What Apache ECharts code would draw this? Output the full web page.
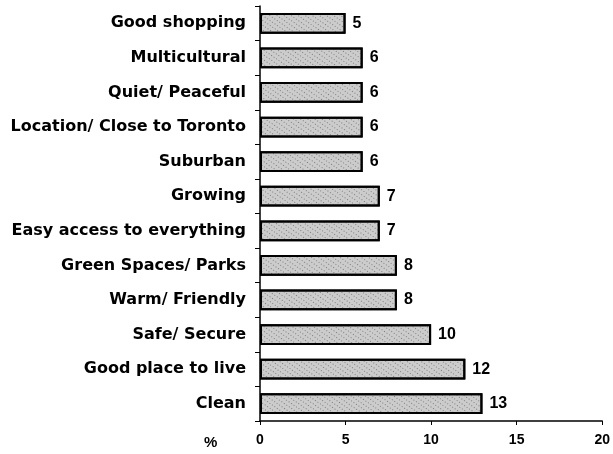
<!DOCTYPE html>
<html>
<head>
<meta charset="utf-8">
<script src="https://cdn.jsdelivr.net/npm/echarts@6/dist/echarts.min.js"></script>
<style>
  html, body { margin: 0; padding: 0; background: #fff; }
  #chart { width: 613px; height: 454px; }
</style>
</head>
<body>
<div id="chart"></div>
<script>
// bottom to top, as echarts draws category axis
var categories = ['Clean', 'Good place to live', 'Safe/ Secure', 'Warm/ Friendly',
  'Green Spaces/ Parks', 'Easy access to everything', 'Growing', 'Suburban',
  'Location/ Close to Toronto', 'Quiet/ Peaceful', 'Multicultural', 'Good shopping'];
var values = [13, 12, 10, 8, 8, 7, 7, 6, 6, 6, 6, 5];
var xTicks = [0, 5, 10, 15, 20];

var chart = echarts.init(document.getElementById('chart'));
chart.setOption({
  animation: false,
  textStyle: { fontFamily: 'Liberation Sans, Arial, sans-serif' },
  grid: { left: 260, right: 10, top: 6, bottom: 33 },
  xAxis: {
    type: 'value',
    min: xTicks[0],
    max: xTicks[xTicks.length - 1],
    interval: 5,
    splitLine: { show: false },
    axisLine: { show: true, lineStyle: { color: '#000', width: 1.5 } },
    axisTick: { show: true, length: 4, lineStyle: { color: '#000' } },
    axisLabel: { color: '#000', fontWeight: 'bold', fontSize: 14, margin: 12 }
  },
  yAxis: {
    type: 'category',
    data: categories,
    axisLine: { show: true, lineStyle: { color: '#000', width: 1.5 } },
    axisTick: { show: true, length: 5, lineStyle: { color: '#000' } },
    axisLabel: {
      color: '#000', fontWeight: 'bold', fontSize: 16, margin: 14,
      fontFamily: 'DejaVu Sans'
    }
  },
  graphic: [{
    type: 'text', left: 204, top: 435,
    style: { text: '%', fill: '#000', font: 'bold 15px Liberation Sans, Arial, sans-serif' }
  }],
  series: [{
    type: 'bar',
    data: values,
    barCategoryGap: '40%',
    itemStyle: {
      color: '#cccccc',
      borderColor: '#000',
      borderWidth: 2,
      decal: {
        symbol: 'rect',
        symbolSize: 1,
        color: 'rgba(50,50,50,0.5)',
        dashArrayX: [1, 2],
        dashArrayY: [1, 3],
        rotation: 0.6
      }
    },
    label: {
      show: true,
      position: 'right',
      distance: 7,
      color: '#000',
      fontWeight: 'bold',
      fontSize: 16
    }
  }]
});
</script>
</body>
</html>
